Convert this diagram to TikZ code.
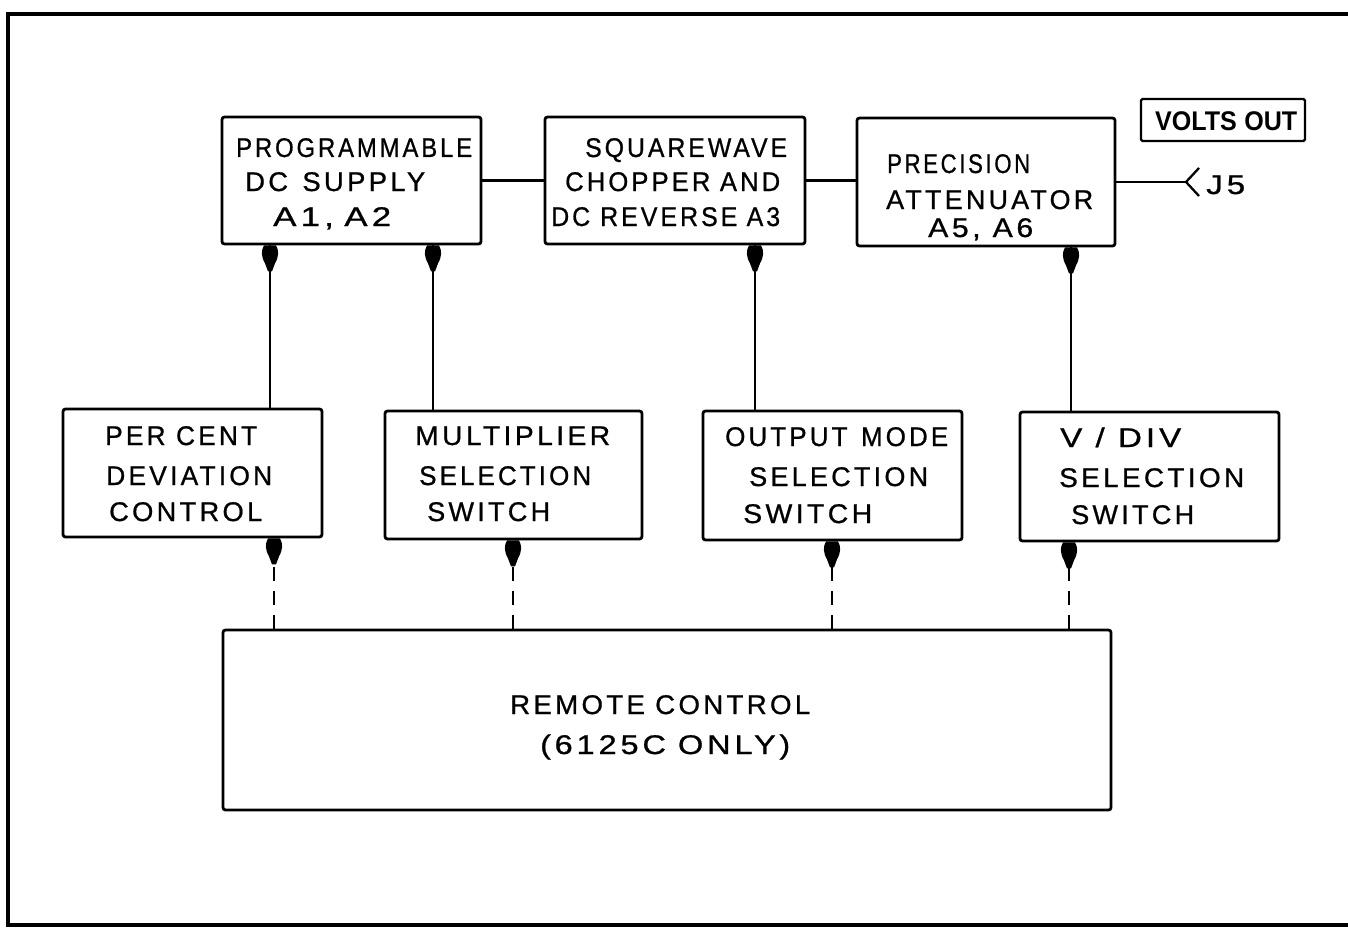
\documentclass[tikz,border=0pt]{standalone}
\usepackage{fontspec}
\setmainfont{Liberation Sans}
\newcommand{\lbl}[2]{\resizebox{#1pt}{\height}{\fontsize{27}{30}\selectfont\addfontfeature{LetterSpace=12,FakeBold=0.8}#2}}
\newcommand{\blbl}[2]{\resizebox{#1pt}{\height}{\fontsize{27}{30}\selectfont\bfseries #2}}
\begin{document}
\begin{tikzpicture}[x=1pt,y=-1pt,
  blk/.style={draw, line width=2.8pt, rounded corners=2.5pt, inner sep=0pt},
  txt/.style={inner sep=0pt, anchor=base west},
  ahead/.pic={\fill (-6,0) -- (6,0) .. controls (9,5) and (9,11) .. (5,18) -- (2,26) -- (-2,26) -- (-5,18) .. controls (-9,11) and (-9,5) .. (-6,0) -- cycle;},
  arr/.style={line width=2.8pt},
  darr/.style={line width=2.4pt, dash pattern=on 14pt off 10pt},
  wire/.style={line width=2.3pt}]
\useasboundingbox (0,0) rectangle (1348,928);
% frame
\draw[line width=4pt] (1348,14) -- (8,14) -- (8,925) -- (1348,925);
% boxes
\node[blk, minimum width=259pt, minimum height=127pt] (prog) at (351.5,180.5) {};
\node[blk, minimum width=260pt, minimum height=127pt] (sq) at (675,180.5) {};
\node[blk, minimum width=258pt, minimum height=128pt] (prec) at (986,182) {};
\node[blk, line width=2.2pt, rounded corners=1.5pt, minimum width=164pt, minimum height=42pt] (volts) at (1223,120) {};
\node[blk, minimum width=259pt, minimum height=128pt] (per) at (192.5,473) {};
\node[blk, minimum width=257pt, minimum height=128pt] (mult) at (513.5,475) {};
\node[blk, minimum width=259pt, minimum height=129pt] (outm) at (832.5,475.5) {};
\node[blk, minimum width=259pt, minimum height=129pt] (vdiv) at (1149.5,476.5) {};
\node[blk, minimum width=888pt, minimum height=180pt] (remote) at (667,720) {};
% texts
\node[txt] (t1) at (236,157) {\lbl{236}{PROGRAMMABLE}};
\node[txt] (t2) at (245,191) {\lbl{180}{DC\hspace{14pt}SUPPLY}};
\node[txt] (t3) at (273,226) {\lbl{118}{A1,\hspace{8pt}A2}};
\node[txt] (t4) at (585,157) {\lbl{202}{SQUAREWAVE}};
\node[txt] (t5) at (565,191) {\lbl{215}{CHOPPER\hspace{10pt}AND}};
\node[txt] (t6) at (551,226) {\lbl{229}{DC REVERSE\hspace{10pt}A3}};
\node[txt] (t7) at (887,173) {\lbl{143}{PRECISION}};
\node[txt] (t8) at (886,209) {\lbl{207}{ATTENUATOR}};
\node[txt] (t9) at (928,237) {\lbl{105}{A5, A6}};
\node[txt] (t10) at (1155,131) {\blbl{142}{VOLTS\hspace{8pt}OUT}};
\node[txt] (t11) at (1206,194) {\lbl{39}{J5}};
\node[txt] (t12) at (105,445) {\lbl{152}{PER CENT}};
\node[txt] (t13) at (106,485) {\lbl{166}{DEVIATION}};
\node[txt] (t14) at (109,521) {\lbl{153}{CONTROL}};
\node[txt] (t15) at (415,445) {\lbl{195}{MULTIPLIER}};
\node[txt] (t16) at (419,485) {\lbl{172}{SELECTION}};
\node[txt] (t17) at (427,521) {\lbl{123}{SWITCH}};
\node[txt] (t18) at (725,446) {\lbl{223}{OUTPUT\hspace{14pt}MODE}};
\node[txt] (t19) at (749,486) {\lbl{179}{SELECTION}};
\node[txt] (t20) at (743,523) {\lbl{129}{SWITCH}};
\node[txt] (t21) at (1060,447) {\lbl{121}{V / DIV}};
\node[txt] (t22) at (1059,487) {\lbl{185}{SELECTION}};
\node[txt] (t23) at (1071,524) {\lbl{123}{SWITCH}};
\node[txt] (t24) at (510,714) {\lbl{300}{REMOTE\hspace{10pt}CONTROL}};
\node[txt] (t25) at (540,754) {\lbl{250}{(\hspace{3pt}6125C\hspace{10pt}ONLY\hspace{3pt})}};
% horizontal wires
\draw[wire] (prog.east) -- (prog.east -| sq.west);
\draw[wire] (prec.west |- sq.east) -- (sq.east);
\coordinate (j5) at (1186,182);
\draw[wire] (prec.east) -- (j5);
\draw[wire] (1199,168) -- (j5) -- (1199,196);
% solid arrows
\draw[arr] (270,0 |- per.north) -- (270,0 |- prog.south) pic {ahead};
\draw[arr] (433,0 |- mult.north) -- (433,0 |- prog.south) pic {ahead};
\draw[arr] (755,0 |- outm.north) -- (755,0 |- sq.south) pic {ahead};
\draw[arr] (1071,0 |- vdiv.north) -- (1071,0 |- prec.south) pic {ahead};
% dashed arrows
\draw[darr] (274,0 |- remote.north) -- (274,0 |- per.south) pic {ahead};
\draw[darr] (513,0 |- remote.north) -- (513,0 |- mult.south) pic {ahead};
\draw[darr] (832,0 |- remote.north) -- (832,0 |- outm.south) pic {ahead};
\draw[darr] (1069,0 |- remote.north) -- (1069,0 |- vdiv.south) pic {ahead};
\end{tikzpicture}
\end{document}
